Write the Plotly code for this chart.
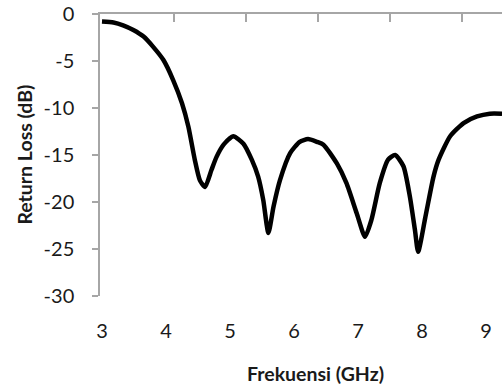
import plotly.graph_objects as go

# Measured return loss (S11) of the antenna
freq_ghz = [3.00, 3.18, 3.33, 3.49, 3.65, 3.80, 3.96, 4.11, 4.25, 4.35, 4.45, 4.53,
            4.61, 4.71, 4.79, 4.90, 5.05, 5.21, 5.34, 5.44, 5.52, 5.60, 5.68, 5.78,
            5.94, 6.09, 6.22, 6.36, 6.46, 6.67, 6.82, 6.98, 7.11, 7.21, 7.34, 7.47,
            7.58, 7.71, 7.81, 7.89, 7.94, 8.05, 8.18, 8.26, 8.44, 8.65, 8.86, 9.06, 9.25]
return_loss_db = [-0.8, -0.9, -1.2, -1.7, -2.4, -3.5, -4.9, -7.0, -9.5, -12.0, -15.5, -17.7,
                  -18.4, -16.6, -15.2, -13.9, -13.0, -13.8, -15.5, -17.3, -19.8, -23.3, -20.5, -17.7,
                  -14.8, -13.6, -13.3, -13.6, -13.9, -15.9, -18.0, -21.2, -23.7, -21.9, -18.0, -15.5,
                  -15.0, -16.2, -19.4, -23.0, -25.3, -21.7, -17.3, -15.5, -13.0, -11.6, -10.9, -10.6, -10.6]

x_tick_vals = [3, 4, 5, 6, 7, 8, 9]
y_tick_vals = [0, -5, -10, -15, -20, -25, -30]
top_tick_vals = [4.125, 5.25, 6.375, 7.5, 8.625]

FONT = "Lato"
AXIS_GRAY = "#a6a6a6"
TEXT = "#1a1a1a"

fig = go.Figure()
fig.add_trace(go.Scatter(
    x=freq_ghz, y=return_loss_db, mode="lines",
    line=dict(color="black", width=4.5, shape="spline", smoothing=0.6),
    showlegend=False, hoverinfo="skip",
))

x_range = [2.969, 9.25]

fig.update_layout(
    width=502, height=386,
    margin=dict(l=100, r=0, t=14, b=90),
    paper_bgcolor="white", plot_bgcolor="white",
    font=dict(family=FONT, size=20, color=TEXT),
    xaxis=dict(
        range=x_range, tickvals=x_tick_vals, ticktext=[str(v) for v in x_tick_vals],
        showline=False, showgrid=False, zeroline=False, ticks="",
        ticklabelstandoff=21,
    ),
    xaxis2=dict(
        range=x_range, overlaying="x", side="top", anchor="y",
        tickvals=top_tick_vals, showticklabels=False,
        showline=True, linecolor=AXIS_GRAY, linewidth=1.5,
        ticks="inside", ticklen=8, tickcolor=AXIS_GRAY, tickwidth=1.5,
        showgrid=False, zeroline=False,
    ),
    yaxis=dict(
        range=[-30, 0], tickvals=y_tick_vals, ticktext=[str(v) for v in y_tick_vals],
        showline=True, linecolor=AXIS_GRAY, linewidth=1.5,
        ticks="outside", ticklen=6, tickcolor=AXIS_GRAY, tickwidth=1.5,
        showgrid=False, zeroline=False, ticklabelstandoff=14,
    ),
    annotations=[
        dict(text="<b>Frekuensi (GHz)</b>", xref="paper", yref="paper",
             x=0.535, y=-0.275, xanchor="center", yanchor="middle",
             showarrow=False, font=dict(family=FONT, size=19.5, color=TEXT)),
        dict(text="<b>Return Loss (dB)</b>", xref="paper", yref="paper",
             x=-0.19, y=0.5, xanchor="center", yanchor="middle", textangle=-90,
             showarrow=False, font=dict(family=FONT, size=19.5, color=TEXT)),
    ],
)

# Dummy trace so the top axis is drawn
fig.add_trace(go.Scatter(x=[None], y=[None], xaxis="x2", showlegend=False, hoverinfo="skip"))

fig.write_html("out.html")
